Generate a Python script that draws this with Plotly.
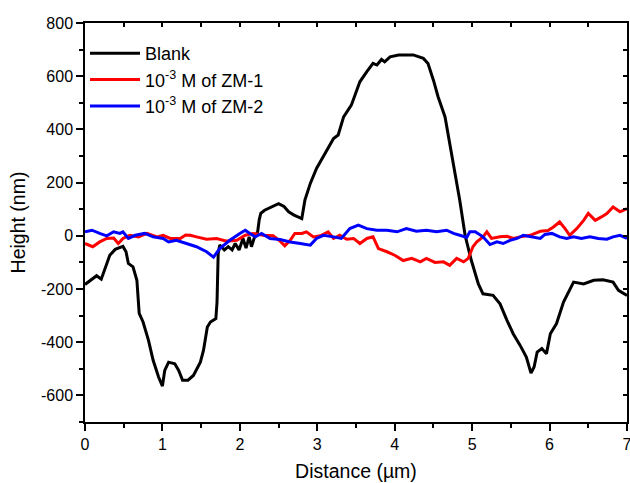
import plotly.graph_objects as go

blank_x = [0.00, 0.08, 0.15, 0.21, 0.28, 0.32, 0.39, 0.45, 0.49, 0.53, 0.56, 0.62, 0.67, 0.70, 0.75, 0.82, 0.88, 0.95,
           1.00, 1.03, 1.08, 1.16, 1.21, 1.26, 1.33, 1.40, 1.49, 1.53, 1.58, 1.62, 1.69, 1.705, 1.71, 1.72, 1.74,
           1.80, 1.85, 1.90, 1.94, 1.99, 2.04, 2.08, 2.12, 2.15, 2.19, 2.23, 2.25, 2.27, 2.32, 2.41, 2.50, 2.57,
           2.63, 2.70, 2.80, 2.84, 2.91, 2.99, 3.10, 3.21, 3.27, 3.34, 3.44, 3.55, 3.64, 3.72, 3.77, 3.83, 3.87,
           3.94, 4.05, 4.15, 4.24, 4.37, 4.43, 4.50, 4.56, 4.65, 4.71, 4.78, 4.84, 4.91, 4.99, 5.08, 5.14, 5.27,
           5.36, 5.45, 5.53, 5.62, 5.70, 5.76, 5.80, 5.84, 5.90, 5.96, 6.01, 6.09, 6.18, 6.31, 6.44, 6.57, 6.69,
           6.82, 6.89, 7.00]
blank_y = [-183, -165, -150, -163, -103, -73, -51, -45, -40, -60, -104, -117, -167, -292, -324, -393, -468, -531,
           -565, -506, -475, -481, -506, -543, -543, -525, -475, -431, -343, -324, -311, -250, -192, -67, -35,
           -53, -41, -53, -29, -53, -10, -46, -4, -41, -4, 15, 60, 84, 96, 108, 121, 110,
           90, 78, 65, 134, 197, 253, 310, 366, 379, 447, 491, 579, 617, 648, 642, 663, 654,
           673, 680, 680, 680, 667, 648, 585, 523, 447, 347, 234, 134, 0, -93, -181, -218, -224,
           -256, -318, -368, -412, -456, -516, -493, -437, -424, -443, -368, -330, -249, -174, -181, -167, -165,
           -174, -205, -224]

zm1_x = [0.00, 0.10, 0.19, 0.28, 0.37, 0.43, 0.49, 0.58, 0.69, 0.80, 0.93, 1.01, 1.10, 1.23, 1.30, 1.36, 1.44,
         1.57, 1.70, 1.83, 1.96, 2.07, 2.17, 2.30, 2.43, 2.52, 2.58, 2.65, 2.71, 2.80, 2.86, 2.95, 3.04, 3.14,
         3.21, 3.29, 3.38, 3.47, 3.55, 3.64, 3.72, 3.79, 3.90, 4.00, 4.11, 4.22, 4.33, 4.41, 4.52, 4.63, 4.71,
         4.80, 4.89, 4.95, 5.01, 5.06, 5.14, 5.19, 5.25, 5.36, 5.45, 5.53, 5.62, 5.75, 5.88, 5.98, 6.05, 6.13,
         6.20, 6.26, 6.35, 6.44, 6.50, 6.59, 6.67, 6.74, 6.82, 6.91, 7.00]
zm1_y = [-29, -41, -23, -10, -8, -29, -10, 2, -4, 9, -4, 2, -10, -10, 3, 2, -4,
         -13, -10, -20, -17, 2, 9, 2, 0, -20, -38, -17, 9, 9, 15, -4, 0, 15,
         -10, 2, -13, -10, -29, -10, -4, -48, -60, -73, -93, -85, -98, -85, -100, -98, -111,
         -85, -98, -85, -41, -23, -4, 15, -10, -4, -2, -10, -4, 2, 17, 20, 33, 52,
         27, 2, 27, 58, 84, 58, 71, 84, 108, 90, 102]

zm2_x = [0.00, 0.09, 0.19, 0.28, 0.37, 0.45, 0.49, 0.56, 0.65, 0.77, 0.88, 1.01, 1.08, 1.18, 1.31, 1.44, 1.57,
         1.66, 1.74, 1.87, 2.00, 2.07, 2.13, 2.20, 2.28, 2.39, 2.52, 2.65, 2.78, 2.91, 2.99, 3.08, 3.21, 3.31,
         3.42, 3.53, 3.64, 3.77, 3.90, 4.03, 4.15, 4.28, 4.41, 4.54, 4.67, 4.76, 4.84, 4.93, 4.97, 5.04, 5.14,
         5.23, 5.32, 5.40, 5.49, 5.58, 5.66, 5.77, 5.88, 5.94, 6.03, 6.13, 6.22, 6.31, 6.41, 6.52, 6.63, 6.74,
         6.82, 6.91, 7.00]
zm2_y = [15, 21, 9, 0, 15, 9, 15, -10, 2, 9, -4, -10, -23, -17, -29, -41, -60,
         -80, -48, -17, 9, 21, 9, -4, 9, -10, -14, -23, -29, -35, -10, 2, -4, -10,
         27, 40, 27, 21, 21, 15, 27, 17, 21, 15, 21, 9, 2, -6, 15, 15, -4,
         -33, -23, -29, -17, -10, 2, -4, -10, 5, 9, -4, -10, -4, -10, -4, -10, -13,
         -4, 2, -10]

x_range = [0, 7]
y_range = [-700, 800]
x_ticks = [0, 1, 2, 3, 4, 5, 6, 7]
y_ticks = [-600, -400, -200, 0, 200, 400, 600, 800]
y_ticklabels = ["-600", "-400", "-200", "0", "200", "400", "600", "800"]

fig = go.Figure()
fig.add_trace(go.Scatter(x=blank_x, y=blank_y, mode="lines", name="Blank",
                         line=dict(color="black", width=3)))
fig.add_trace(go.Scatter(x=zm1_x, y=zm1_y, mode="lines", name="10<sup>-3</sup> M of ZM-1",
                         line=dict(color="#ff0000", width=3)))
fig.add_trace(go.Scatter(x=zm2_x, y=zm2_y, mode="lines", name="10<sup>-3</sup> M of ZM-2",
                         line=dict(color="#0000ff", width=3)))

font_family = "Liberation Sans, Arial, sans-serif"
axis_common = dict(showgrid=False, zeroline=False, showline=True, linecolor="black", linewidth=1.5,
                   ticks="outside", tickcolor="black", tickwidth=1.5, ticklen=7, automargin=False,
                   ticklabeloverflow="allow",
                   tickfont=dict(family=font_family, size=16, color="black"))

fig.update_layout(
    width=630, height=483,
    margin=dict(l=85, r=3, t=23, b=61),
    paper_bgcolor="white", plot_bgcolor="white",
    font=dict(family=font_family, color="black"),
    showlegend=True,
    legend=dict(x=0.0, y=0.97, xanchor="left", yanchor="top", bgcolor="rgba(0,0,0,0)",
                font=dict(family=font_family, size=18, color="black"), tracegroupgap=0,
                itemwidth=50),
    xaxis=dict(range=x_range, tickvals=x_ticks, title=dict(text="Distance (µm)", font=dict(size=19.5), standoff=12),
               minor=dict(ticks="outside", ticklen=4, dtick=0.5, tickcolor="black", tickwidth=1.5),
               **axis_common),
    yaxis=dict(range=y_range, tickvals=y_ticks, ticktext=y_ticklabels,
               title=dict(text="Height (nm)", font=dict(size=19.5), standoff=10),
               minor=dict(ticks="outside", ticklen=4, dtick=100, tickcolor="black", tickwidth=1.5),
               **axis_common),
    xaxis2=dict(range=x_range, overlaying="x", side="top", showgrid=False, zeroline=False, showline=True,
                linecolor="black", linewidth=1.5, ticks="inside", ticklen=4, tickcolor="black", tickwidth=1.5,
                dtick=0.5, tick0=0, showticklabels=False, automargin=False),
    yaxis2=dict(range=y_range, overlaying="y", side="right", showgrid=False, zeroline=False, showline=True,
                linecolor="black", linewidth=1.5, ticks="inside", ticklen=4, tickcolor="black", tickwidth=1.5,
                dtick=100, tick0=0, showticklabels=False, automargin=False),
)
fig.add_trace(go.Scatter(x=[None], y=[None], xaxis="x2", yaxis="y2", showlegend=False, hoverinfo="skip"))

fig.write_html("out.html", config={"displayModeBar": False},
               post_script="document.body.style.margin='0';document.body.style.overflow='hidden';")
